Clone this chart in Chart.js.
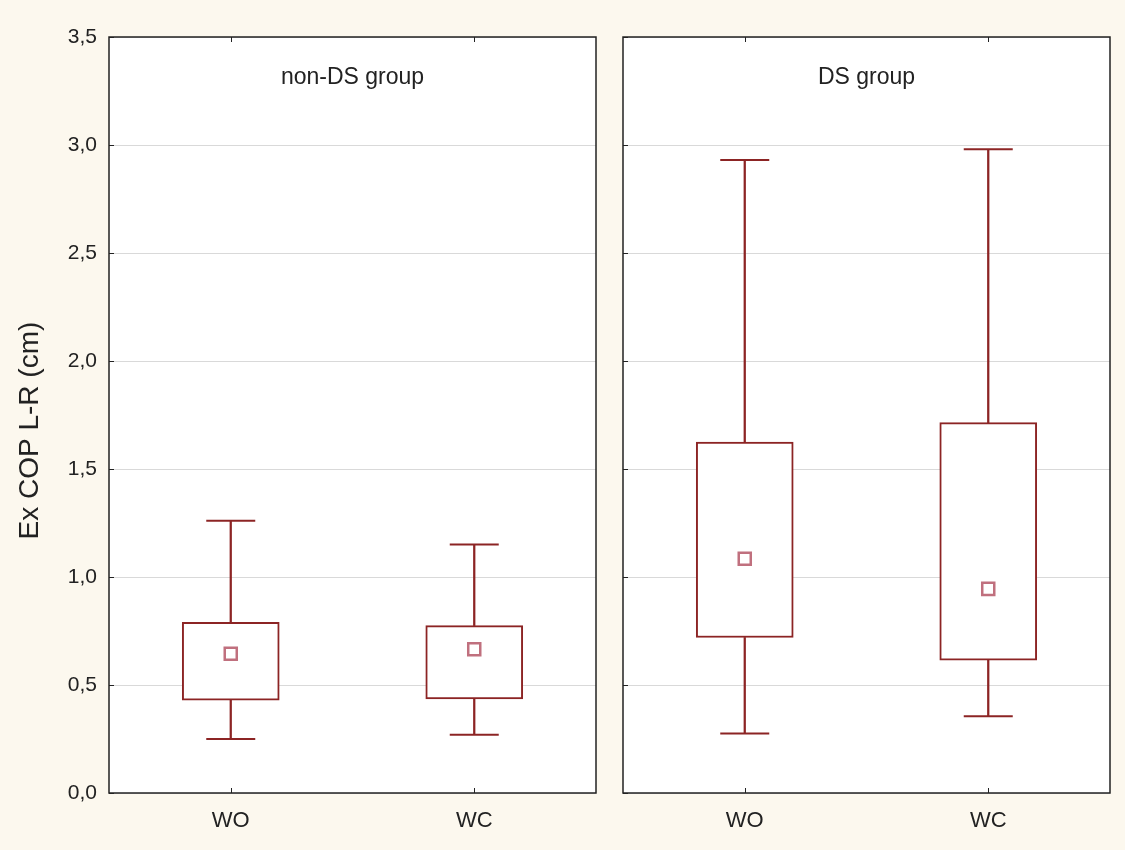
<!DOCTYPE html>
<html>
<head>
<meta charset="utf-8">
<script src="https://cdn.jsdelivr.net/npm/chart.js@4.4.1/dist/chart.umd.min.js"></script>
<style>
    body { margin: 0; background: #fcf8ee; width: 1125px; height: 850px; overflow: hidden; position: relative; }
    canvas { position: absolute; top: 0; }
    #leftChart { left: 0; }
    #rightChart { left: 610px; }
</style>
</head>
<body>
<canvas id="leftChart" width="610" height="850"></canvas>
<canvas id="rightChart" width="515" height="850"></canvas>
<script>
const categories = ['WO', 'WC'];
const yTicks = [0, 0.5, 1, 1.5, 2, 2.5, 3, 3.5];

// non-DS group
const nonDsMin = [0.25, 0.27];
const nonDsQ1 = [0.43, 0.435];
const nonDsMid = [0.645, 0.665];
const nonDsQ3 = [0.79, 0.775];
const nonDsMax = [1.26, 1.15];

// DS group
const dsMin = [0.275, 0.355];
const dsQ1 = [0.72, 0.615];
const dsMid = [1.085, 0.945];
const dsQ3 = [1.625, 1.715];
const dsMax = [2.93, 2.98];

const boxColor = '#8c2424';
const markColor = '#c0707e';
const fontFamily = '"Liberation Sans", Arial, sans-serif';
const textColor = '#222';

const panelPlugin = {
    id: 'panel',
    beforeDraw(chart) {
        const { ctx, chartArea: a } = chart;
        ctx.save();
        ctx.fillStyle = '#ffffff';
        ctx.fillRect(a.left, a.top, a.right - a.left, a.bottom - a.top);
        ctx.restore();
    },
    afterDraw(chart, args, opts) {
        const { ctx, chartArea: a, scales } = chart;
        ctx.save();
        ctx.strokeStyle = '#222';
        ctx.lineWidth = 1.5;
        ctx.strokeRect(a.left, a.top, a.right - a.left, a.bottom - a.top);

        // small inner ticks
        ctx.lineWidth = 1;
        ctx.beginPath();
        categories.forEach((c, i) => {
            const x = Math.round(scales.x.getPixelForValue(i)) + 0.5;
            ctx.moveTo(x, a.top); ctx.lineTo(x, a.top + 5);
            ctx.moveTo(x, a.bottom); ctx.lineTo(x, a.bottom - 5);
        });
        yTicks.forEach(v => {
            const y = Math.round(scales.y.getPixelForValue(v)) + 0.5;
            ctx.moveTo(a.left, y); ctx.lineTo(a.left + 5, y);
        });
        ctx.stroke();

        ctx.fillStyle = textColor;
        ctx.font = '23px ' + fontFamily;
        ctx.textAlign = 'center';
        ctx.textBaseline = 'middle';
        ctx.fillText(opts.label, (a.left + a.right) / 2, a.top + 41);
        ctx.restore();
    }
};

function buildDatasets(mins, q1s, mids, q3s, maxs) {
    return [
        {
            type: 'line', label: 'mid', data: mids, order: 0,
            showLine: false, pointStyle: 'rect', pointRadius: 8.5,
            pointBorderWidth: 2.5, pointBorderColor: markColor, pointBackgroundColor: '#ffffff'
        },
        {
            type: 'line', label: 'max', data: maxs, order: 1,
            showLine: false, pointStyle: 'line', pointRadius: 24.5,
            pointBorderWidth: 2, pointBorderColor: boxColor
        },
        {
            type: 'line', label: 'min', data: mins, order: 1,
            showLine: false, pointStyle: 'line', pointRadius: 24.5,
            pointBorderWidth: 2, pointBorderColor: boxColor
        },
        {
            label: 'box', data: q1s.map((q, i) => [q, q3s[i]]), order: 2,
            backgroundColor: '#ffffff', borderColor: boxColor, borderWidth: 2,
            borderSkipped: false, barThickness: 97, grouped: false
        },
        {
            label: 'upper', data: q3s.map((q, i) => [q, maxs[i]]), order: 3,
            backgroundColor: boxColor, borderWidth: 0, barThickness: 1.6, grouped: false
        },
        {
            label: 'lower', data: mins.map((m, i) => [m, q1s[i]]), order: 3,
            backgroundColor: boxColor, borderWidth: 0, barThickness: 1.6, grouped: false
        }
    ];
}

function makeChart(id, label, datasets, showY) {
    const ctx = document.getElementById(id).getContext('2d');
    return new Chart(ctx, {
        type: 'bar',
        data: { labels: categories, datasets: datasets },
        options: {
            responsive: false,
            animation: false,
            layout: {
                autoPadding: false,
                padding: showY ? { top: 37, right: 14, bottom: 0, left: 0 } : { top: 37, right: 15, bottom: 0, left: 13 }
            },
            plugins: {
                legend: { display: false },
                tooltip: { enabled: false },
                panel: { label: label }
            },
            scales: {
                x: {
                    offset: true,
                    grid: { display: false, drawTicks: false },
                    border: { display: false },
                    ticks: { color: textColor, padding: 15, font: { family: fontFamily, size: 22 } },
                    afterFit: scale => { scale.height = 57; }
                },
                y: {
                    min: 0,
                    max: 3.5,
                    grid: { color: '#d9d9d9', lineWidth: 1, drawTicks: false },
                    border: { display: false },
                    ticks: {
                        display: showY,
                        stepSize: 0.5,
                        padding: 12,
                        color: textColor,
                        font: { family: fontFamily, size: 21 },
                        callback: v => v.toFixed(1).replace('.', ',')
                    },
                    title: {
                        display: showY,
                        text: 'Ex COP L-R (cm)    ',
                        color: textColor,
                        padding: { top: 13, bottom: 0 },
                        font: { family: fontFamily, size: 28 }
                    },
                    afterFit: scale => { scale.width = showY ? 109 : 0; }
                }
            }
        },
        plugins: [panelPlugin]
    });
}

makeChart('leftChart', 'non-DS group', buildDatasets(nonDsMin, nonDsQ1, nonDsMid, nonDsQ3, nonDsMax), true);
makeChart('rightChart', 'DS group', buildDatasets(dsMin, dsQ1, dsMid, dsQ3, dsMax), false);
</script>
</body>
</html>
